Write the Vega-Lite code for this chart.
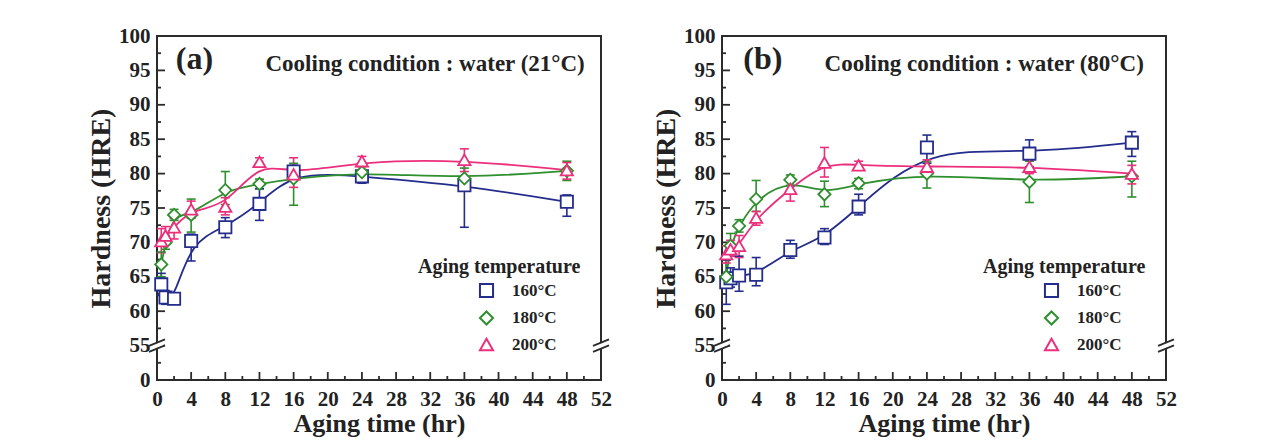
{
  "$schema": "https://vega.github.io/schema/vega-lite/v6.json",
  "background": "white",
  "padding": {"left": 86, "top": 24, "right": 5, "bottom": 5},
  "config": {
    "font": "Liberation Serif",
    "view": {"stroke": "#2b2b2b", "strokeWidth": 2},
    "concat": {"spacing": 38},
    "axis": {
      "domain": false,
      "grid": false,
      "ticks": false,
      "labelFlush": false,
      "labelFont": "Liberation Serif",
      "labelFontWeight": "bold",
      "labelFontSize": 21,
      "labelColor": "#222222",
      "labelOverlap": false,
      "titleFont": "Liberation Serif",
      "titleFontWeight": "bold",
      "titleColor": "#222222"
    },
    "legend": {
      "titleFont": "Liberation Serif",
      "titleFontWeight": "bold",
      "titleFontSize": 20,
      "titleColor": "#222222",
      "labelFont": "Liberation Serif",
      "labelFontWeight": "bold",
      "labelFontSize": 17,
      "labelColor": "#222222"
    }
  },
  "datasets": {
    "quench21C": [
      {"temp": "160°C", "time": 0.5, "hrs": 63.9, "lo": 62.3, "hi": 65.5},
      {"temp": "160°C", "time": 1, "hrs": 62.0, "lo": 61.0, "hi": 63.0},
      {"temp": "160°C", "time": 2, "hrs": 61.8, "lo": 61.0, "hi": 62.6},
      {"temp": "160°C", "time": 4, "hrs": 70.2, "lo": 67.3, "hi": 71.2},
      {"temp": "160°C", "time": 8, "hrs": 72.2, "lo": 70.7, "hi": 73.6},
      {"temp": "160°C", "time": 12, "hrs": 75.6, "lo": 73.2, "hi": 77.8},
      {"temp": "160°C", "time": 16, "hrs": 80.3, "lo": 79.0, "hi": 81.2},
      {"temp": "160°C", "time": 24, "hrs": 79.6, "lo": 78.6, "hi": 80.5},
      {"temp": "160°C", "time": 36, "hrs": 78.3, "lo": 72.2, "hi": 81.8},
      {"temp": "160°C", "time": 48, "hrs": 75.9, "lo": 73.8, "hi": 76.9},
      {"temp": "180°C", "time": 0.5, "hrs": 66.8, "lo": 65.0, "hi": 68.6},
      {"temp": "180°C", "time": 1, "hrs": 70.0, "lo": 69.0, "hi": 71.0},
      {"temp": "180°C", "time": 2, "hrs": 74.0, "lo": 73.2, "hi": 74.8},
      {"temp": "180°C", "time": 4, "hrs": 74.0, "lo": 71.5, "hi": 76.3},
      {"temp": "180°C", "time": 8, "hrs": 77.6, "lo": 75.5, "hi": 80.3},
      {"temp": "180°C", "time": 12, "hrs": 78.5, "lo": 77.8, "hi": 79.2},
      {"temp": "180°C", "time": 16, "hrs": 79.3, "lo": 75.4, "hi": 81.5},
      {"temp": "180°C", "time": 24, "hrs": 80.2, "lo": 78.8, "hi": 81.5},
      {"temp": "180°C", "time": 36, "hrs": 79.3, "lo": 77.8, "hi": 80.8},
      {"temp": "180°C", "time": 48, "hrs": 80.4, "lo": 79.0, "hi": 81.8},
      {"temp": "200°C", "time": 0.5, "hrs": 70.2, "lo": 68.5, "hi": 72.0},
      {"temp": "200°C", "time": 1, "hrs": 71.0, "lo": 70.0, "hi": 72.3},
      {"temp": "200°C", "time": 2, "hrs": 72.2, "lo": 70.5, "hi": 73.5},
      {"temp": "200°C", "time": 4, "hrs": 74.8, "lo": 73.5, "hi": 76.0},
      {"temp": "200°C", "time": 8, "hrs": 75.2, "lo": 74.0, "hi": 76.5},
      {"temp": "200°C", "time": 12, "hrs": 81.7, "lo": 81.0, "hi": 82.3},
      {"temp": "200°C", "time": 16, "hrs": 79.9, "lo": 78.0, "hi": 82.3},
      {"temp": "200°C", "time": 24, "hrs": 81.8, "lo": 81.0, "hi": 82.5},
      {"temp": "200°C", "time": 36, "hrs": 82.0, "lo": 80.3, "hi": 83.6},
      {"temp": "200°C", "time": 48, "hrs": 80.5, "lo": 79.2, "hi": 81.6}
    ],
    "quench80C": [
      {"temp": "160°C", "time": 0.5, "hrs": 64.2, "lo": 61.0, "hi": 67.4},
      {"temp": "160°C", "time": 1, "hrs": 64.8, "lo": 63.5, "hi": 66.3},
      {"temp": "160°C", "time": 2, "hrs": 65.2, "lo": 62.9, "hi": 68.0},
      {"temp": "160°C", "time": 4, "hrs": 65.3, "lo": 63.7, "hi": 67.8},
      {"temp": "160°C", "time": 8, "hrs": 68.9, "lo": 67.7, "hi": 70.3},
      {"temp": "160°C", "time": 12, "hrs": 70.7, "lo": 69.7, "hi": 72.0},
      {"temp": "160°C", "time": 16, "hrs": 75.2, "lo": 74.0, "hi": 77.0},
      {"temp": "160°C", "time": 24, "hrs": 83.8, "lo": 81.5, "hi": 85.6},
      {"temp": "160°C", "time": 36, "hrs": 82.9, "lo": 81.0, "hi": 84.9},
      {"temp": "160°C", "time": 48, "hrs": 84.5, "lo": 82.5, "hi": 86.1},
      {"temp": "180°C", "time": 0.5, "hrs": 65.0, "lo": 64.0, "hi": 67.5},
      {"temp": "180°C", "time": 1, "hrs": 69.5, "lo": 68.0, "hi": 71.3},
      {"temp": "180°C", "time": 2, "hrs": 72.4, "lo": 71.5, "hi": 73.3},
      {"temp": "180°C", "time": 4, "hrs": 76.3, "lo": 74.5, "hi": 79.0},
      {"temp": "180°C", "time": 8, "hrs": 79.1, "lo": 78.3, "hi": 79.8},
      {"temp": "180°C", "time": 12, "hrs": 77.0, "lo": 75.2, "hi": 78.9},
      {"temp": "180°C", "time": 16, "hrs": 78.6, "lo": 77.8, "hi": 79.3},
      {"temp": "180°C", "time": 24, "hrs": 80.0, "lo": 77.9, "hi": 81.7},
      {"temp": "180°C", "time": 36, "hrs": 78.8, "lo": 75.8, "hi": 81.8},
      {"temp": "180°C", "time": 48, "hrs": 79.6, "lo": 76.6, "hi": 81.8},
      {"temp": "200°C", "time": 0.5, "hrs": 68.3, "lo": 67.0, "hi": 69.5},
      {"temp": "200°C", "time": 1, "hrs": 69.0, "lo": 68.0, "hi": 70.3},
      {"temp": "200°C", "time": 2, "hrs": 69.5, "lo": 67.8, "hi": 71.0},
      {"temp": "200°C", "time": 4, "hrs": 73.6, "lo": 72.5, "hi": 74.5},
      {"temp": "200°C", "time": 8, "hrs": 77.8, "lo": 76.0, "hi": 79.2},
      {"temp": "200°C", "time": 12, "hrs": 81.6, "lo": 79.5, "hi": 83.8},
      {"temp": "200°C", "time": 16, "hrs": 81.2, "lo": 80.5, "hi": 81.8},
      {"temp": "200°C", "time": 24, "hrs": 81.0, "lo": 80.2, "hi": 82.0},
      {"temp": "200°C", "time": 36, "hrs": 81.0, "lo": 80.0, "hi": 82.0},
      {"temp": "200°C", "time": 48, "hrs": 80.0, "lo": 78.5, "hi": 81.2}
    ],
    "axisBreaks": [{"edge": 0}, {"edge": 52}],
    "xMajorTicks": [{"at": 0}, {"at": 4}, {"at": 8}, {"at": 12}, {"at": 16}, {"at": 20}, {"at": 24}, {"at": 28}, {"at": 32}, {"at": 36}, {"at": 40}, {"at": 44}, {"at": 48}, {"at": 52}],
    "xMinorTicks": [{"at": 2}, {"at": 6}, {"at": 10}, {"at": 14}, {"at": 18}, {"at": 22}, {"at": 26}, {"at": 30}, {"at": 34}, {"at": 38}, {"at": 42}, {"at": 46}, {"at": 50}],
    "yMajorTicks": [{"at": 55}, {"at": 60}, {"at": 65}, {"at": 70}, {"at": 75}, {"at": 80}, {"at": 85}, {"at": 90}, {"at": 95}, {"at": 100}],
    "yMinorTicks": [{"at": 52.5}, {"at": 57.5}, {"at": 62.5}, {"at": 67.5}, {"at": 72.5}, {"at": 77.5}, {"at": 82.5}, {"at": 87.5}, {"at": 92.5}, {"at": 97.5}]
  },
  "resolve": {
    "scale": {"color": "independent", "shape": "independent"},
    "legend": {"color": "independent", "shape": "independent"}
  },
  "hconcat": [
    {
      "width": 444,
      "height": 344,
      "resolve": {"axis": {"x": "independent", "y": "independent"}},
      "layer": [
        {
          "data": {"name": "quench21C"},
          "mark": {"type": "line", "interpolate": "basis", "strokeWidth": 1.8},
          "encoding": {
            "x": {"field": "time", "type": "quantitative",
              "scale": {"domain": [0, 52], "nice": false, "zero": false},
              "axis": {"title": "Aging time (hr)", "titleFontSize": 26, "labelOverlap": false, "labelFlush": false, "orient": "bottom",
                "values": [0,4,8,12,16,20,24,28,32,36,40,44,48,52],
                "ticks": false, "labelPadding": 8, "titlePadding": 1}},
            "y": {"field": "hrs", "type": "quantitative",
              "scale": {"domain": [50, 100], "nice": false, "zero": false},
              "axis": {"title": "Hardness (HRE)", "titleFontSize": 28, "labelOverlap": false, "labelFlush": false, "orient": "left",
                "values": [50,55,60,65,70,75,80,85,90,95,100],
                "labelExpr": "datum.value === 50 ? '0' : datum.label",
                "ticks": false, "labelPadding": 7, "titlePadding": 3}},
            "stroke": {"field": "temp", "type": "nominal", "legend": null,
              "scale": {"domain": ["160°C", "180°C", "200°C"], "range": ["#242c8c", "#2f8f2f", "#ec2f7c"]}}
          }
        },
        {
          "data": {"name": "xMajorTicks"},
          "mark": {"type": "rule", "color": "#2b2b2b", "strokeWidth": 1.8, "y2Offset": -8},
          "encoding": {
            "x": {"field": "at", "type": "quantitative", "axis": null},
            "x2": {"field": "at"},
            "y": {"datum": 50, "axis": null},
            "y2": {"datum": 50}
          }
        },
        {
          "data": {"name": "xMinorTicks"},
          "mark": {"type": "rule", "color": "#2b2b2b", "strokeWidth": 1.8, "y2Offset": -4},
          "encoding": {
            "x": {"field": "at", "type": "quantitative", "axis": null},
            "x2": {"field": "at"},
            "y": {"datum": 50, "axis": null},
            "y2": {"datum": 50}
          }
        },
        {
          "data": {"name": "yMajorTicks"},
          "mark": {"type": "rule", "color": "#2b2b2b", "strokeWidth": 1.8, "x2Offset": 8},
          "encoding": {
            "y": {"field": "at", "type": "quantitative", "axis": null},
            "y2": {"field": "at"},
            "x": {"datum": 0, "axis": null},
            "x2": {"datum": 0}
          }
        },
        {
          "data": {"name": "yMinorTicks"},
          "mark": {"type": "rule", "color": "#2b2b2b", "strokeWidth": 1.8, "x2Offset": 4},
          "encoding": {
            "y": {"field": "at", "type": "quantitative", "axis": null},
            "y2": {"field": "at"},
            "x": {"datum": 0, "axis": null},
            "x2": {"datum": 0}
          }
        },
        {
          "data": {"name": "quench21C"},
          "mark": {"type": "rule", "strokeWidth": 1.6},
          "encoding": {
            "x": {"field": "time", "type": "quantitative", "axis": null},
            "y": {"field": "lo", "type": "quantitative", "axis": null},
            "y2": {"field": "hi"},
            "stroke": {"field": "temp", "type": "nominal", "legend": null}
          }
        },
        {
          "data": {"name": "quench21C"},
          "mark": {"type": "rule", "strokeWidth": 1.6, "xOffset": -4.5, "x2Offset": 4.5},
          "encoding": {
            "x": {"field": "time", "type": "quantitative", "axis": null},
            "x2": {"field": "time"},
            "y": {"field": "lo", "type": "quantitative", "axis": null},
            "y2": {"field": "lo"},
            "stroke": {"field": "temp", "type": "nominal", "legend": null}
          }
        },
        {
          "data": {"name": "quench21C"},
          "mark": {"type": "rule", "strokeWidth": 1.6, "xOffset": -4.5, "x2Offset": 4.5},
          "encoding": {
            "x": {"field": "time", "type": "quantitative", "axis": null},
            "x2": {"field": "time"},
            "y": {"field": "hi", "type": "quantitative", "axis": null},
            "y2": {"field": "hi"},
            "stroke": {"field": "temp", "type": "nominal", "legend": null}
          }
        },
        {
          "data": {"name": "quench21C"},
          "mark": {"type": "point", "filled": false, "fill": "white", "fillOpacity": 1, "opacity": 1, "size": 150, "strokeWidth": 1.8},
          "encoding": {
            "x": {"field": "time", "type": "quantitative", "axis": null},
            "y": {"field": "hrs", "type": "quantitative", "axis": null},
            "color": {"field": "temp", "type": "nominal",
              "scale": {"domain": ["160°C", "180°C", "200°C"], "range": ["#242c8c", "#2f8f2f", "#ec2f7c"]},
              "legend": {
                "title": "Aging temperature",
                "orient": "none", "legendX": 261, "legendY": 221,
                "padding": 0, "titlePadding": 5, "rowPadding": 4.5,
                "symbolSize": 172, "symbolStrokeWidth": 2,
                "symbolOffset": 60, "labelOffset": 17
              }},
            "shape": {"field": "temp", "type": "nominal",
              "scale": {"domain": ["160°C", "180°C", "200°C"], "range": ["square", "diamond", "triangle-up"]}}
          }
        },
        {
          "data": {"name": "axisBreaks"},
          "mark": {"type": "rule", "color": "white", "strokeWidth": 5, "xOffset": -6, "x2Offset": 6, "yOffset": 2.4, "y2Offset": -2.4},
          "encoding": {
            "x": {"field": "edge", "type": "quantitative", "axis": null},
            "x2": {"field": "edge"},
            "y": {"datum": 55, "axis": null},
            "y2": {"datum": 55}
          }
        },
        {
          "data": {"name": "axisBreaks"},
          "mark": {"type": "rule", "color": "#2b2b2b", "strokeWidth": 1.8, "xOffset": -8, "x2Offset": 8, "yOffset": 0.2, "y2Offset": -6.2},
          "encoding": {
            "x": {"field": "edge", "type": "quantitative", "axis": null},
            "x2": {"field": "edge"},
            "y": {"datum": 55, "axis": null},
            "y2": {"datum": 55}
          }
        },
        {
          "data": {"name": "axisBreaks"},
          "mark": {"type": "rule", "color": "#2b2b2b", "strokeWidth": 1.8, "xOffset": -8, "x2Offset": 8, "yOffset": 6.2, "y2Offset": -0.2},
          "encoding": {
            "x": {"field": "edge", "type": "quantitative", "axis": null},
            "x2": {"field": "edge"},
            "y": {"datum": 55, "axis": null},
            "y2": {"datum": 55}
          }
        },
        {
          "data": {"values": [{"tag": "(a)"}]},
          "mark": {"type": "text", "align": "left", "baseline": "middle", "fontSize": 32, "fontWeight": "bold", "color": "#222222"},
          "encoding": {
            "x": {"datum": 2.2, "axis": null},
            "y": {"datum": 96.6, "axis": null},
            "text": {"field": "tag"}
          }
        },
        {
          "data": {"values": [{"note": "Cooling condition : water (21°C)"}]},
          "mark": {"type": "text", "align": "right", "baseline": "middle", "fontSize": 23, "fontWeight": "bold", "color": "#222222"},
          "encoding": {
            "x": {"datum": 50.1, "axis": null},
            "y": {"datum": 96.0, "axis": null},
            "text": {"field": "note"}
          }
        }
      ]
    },
    {
      "width": 444,
      "height": 344,
      "resolve": {"axis": {"x": "independent", "y": "independent"}},
      "layer": [
        {
          "data": {"name": "quench80C"},
          "mark": {"type": "line", "interpolate": "basis", "strokeWidth": 1.8},
          "encoding": {
            "x": {"field": "time", "type": "quantitative",
              "scale": {"domain": [0, 52], "nice": false, "zero": false},
              "axis": {"title": "Aging time (hr)", "titleFontSize": 26, "labelOverlap": false, "labelFlush": false, "orient": "bottom",
                "values": [0,4,8,12,16,20,24,28,32,36,40,44,48,52],
                "ticks": false, "labelPadding": 8, "titlePadding": 1}},
            "y": {"field": "hrs", "type": "quantitative",
              "scale": {"domain": [50, 100], "nice": false, "zero": false},
              "axis": {"title": "Hardness (HRE)", "titleFontSize": 28, "labelOverlap": false, "labelFlush": false, "orient": "left",
                "values": [50,55,60,65,70,75,80,85,90,95,100],
                "labelExpr": "datum.value === 50 ? '0' : datum.label",
                "ticks": false, "labelPadding": 7, "titlePadding": 3}},
            "stroke": {"field": "temp", "type": "nominal", "legend": null,
              "scale": {"domain": ["160°C", "180°C", "200°C"], "range": ["#242c8c", "#2f8f2f", "#ec2f7c"]}}
          }
        },
        {
          "data": {"name": "xMajorTicks"},
          "mark": {"type": "rule", "color": "#2b2b2b", "strokeWidth": 1.8, "y2Offset": -8},
          "encoding": {
            "x": {"field": "at", "type": "quantitative", "axis": null},
            "x2": {"field": "at"},
            "y": {"datum": 50, "axis": null},
            "y2": {"datum": 50}
          }
        },
        {
          "data": {"name": "xMinorTicks"},
          "mark": {"type": "rule", "color": "#2b2b2b", "strokeWidth": 1.8, "y2Offset": -4},
          "encoding": {
            "x": {"field": "at", "type": "quantitative", "axis": null},
            "x2": {"field": "at"},
            "y": {"datum": 50, "axis": null},
            "y2": {"datum": 50}
          }
        },
        {
          "data": {"name": "yMajorTicks"},
          "mark": {"type": "rule", "color": "#2b2b2b", "strokeWidth": 1.8, "x2Offset": 8},
          "encoding": {
            "y": {"field": "at", "type": "quantitative", "axis": null},
            "y2": {"field": "at"},
            "x": {"datum": 0, "axis": null},
            "x2": {"datum": 0}
          }
        },
        {
          "data": {"name": "yMinorTicks"},
          "mark": {"type": "rule", "color": "#2b2b2b", "strokeWidth": 1.8, "x2Offset": 4},
          "encoding": {
            "y": {"field": "at", "type": "quantitative", "axis": null},
            "y2": {"field": "at"},
            "x": {"datum": 0, "axis": null},
            "x2": {"datum": 0}
          }
        },
        {
          "data": {"name": "quench80C"},
          "mark": {"type": "rule", "strokeWidth": 1.6},
          "encoding": {
            "x": {"field": "time", "type": "quantitative", "axis": null},
            "y": {"field": "lo", "type": "quantitative", "axis": null},
            "y2": {"field": "hi"},
            "stroke": {"field": "temp", "type": "nominal", "legend": null}
          }
        },
        {
          "data": {"name": "quench80C"},
          "mark": {"type": "rule", "strokeWidth": 1.6, "xOffset": -4.5, "x2Offset": 4.5},
          "encoding": {
            "x": {"field": "time", "type": "quantitative", "axis": null},
            "x2": {"field": "time"},
            "y": {"field": "lo", "type": "quantitative", "axis": null},
            "y2": {"field": "lo"},
            "stroke": {"field": "temp", "type": "nominal", "legend": null}
          }
        },
        {
          "data": {"name": "quench80C"},
          "mark": {"type": "rule", "strokeWidth": 1.6, "xOffset": -4.5, "x2Offset": 4.5},
          "encoding": {
            "x": {"field": "time", "type": "quantitative", "axis": null},
            "x2": {"field": "time"},
            "y": {"field": "hi", "type": "quantitative", "axis": null},
            "y2": {"field": "hi"},
            "stroke": {"field": "temp", "type": "nominal", "legend": null}
          }
        },
        {
          "data": {"name": "quench80C"},
          "mark": {"type": "point", "filled": false, "fill": "white", "fillOpacity": 1, "opacity": 1, "size": 150, "strokeWidth": 1.8},
          "encoding": {
            "x": {"field": "time", "type": "quantitative", "axis": null},
            "y": {"field": "hrs", "type": "quantitative", "axis": null},
            "color": {"field": "temp", "type": "nominal",
              "scale": {"domain": ["160°C", "180°C", "200°C"], "range": ["#242c8c", "#2f8f2f", "#ec2f7c"]},
              "legend": {
                "title": "Aging temperature",
                "orient": "none", "legendX": 261, "legendY": 221,
                "padding": 0, "titlePadding": 5, "rowPadding": 4.5,
                "symbolSize": 172, "symbolStrokeWidth": 2,
                "symbolOffset": 60, "labelOffset": 17
              }},
            "shape": {"field": "temp", "type": "nominal",
              "scale": {"domain": ["160°C", "180°C", "200°C"], "range": ["square", "diamond", "triangle-up"]}}
          }
        },
        {
          "data": {"name": "axisBreaks"},
          "mark": {"type": "rule", "color": "white", "strokeWidth": 5, "xOffset": -6, "x2Offset": 6, "yOffset": 2.4, "y2Offset": -2.4},
          "encoding": {
            "x": {"field": "edge", "type": "quantitative", "axis": null},
            "x2": {"field": "edge"},
            "y": {"datum": 55, "axis": null},
            "y2": {"datum": 55}
          }
        },
        {
          "data": {"name": "axisBreaks"},
          "mark": {"type": "rule", "color": "#2b2b2b", "strokeWidth": 1.8, "xOffset": -8, "x2Offset": 8, "yOffset": 0.2, "y2Offset": -6.2},
          "encoding": {
            "x": {"field": "edge", "type": "quantitative", "axis": null},
            "x2": {"field": "edge"},
            "y": {"datum": 55, "axis": null},
            "y2": {"datum": 55}
          }
        },
        {
          "data": {"name": "axisBreaks"},
          "mark": {"type": "rule", "color": "#2b2b2b", "strokeWidth": 1.8, "xOffset": -8, "x2Offset": 8, "yOffset": 6.2, "y2Offset": -0.2},
          "encoding": {
            "x": {"field": "edge", "type": "quantitative", "axis": null},
            "x2": {"field": "edge"},
            "y": {"datum": 55, "axis": null},
            "y2": {"datum": 55}
          }
        },
        {
          "data": {"values": [{"tag": "(b)"}]},
          "mark": {"type": "text", "align": "left", "baseline": "middle", "fontSize": 32, "fontWeight": "bold", "color": "#222222"},
          "encoding": {
            "x": {"datum": 2.5, "axis": null},
            "y": {"datum": 96.6, "axis": null},
            "text": {"field": "tag"}
          }
        },
        {
          "data": {"values": [{"note": "Cooling condition : water (80°C)"}]},
          "mark": {"type": "text", "align": "right", "baseline": "middle", "fontSize": 23, "fontWeight": "bold", "color": "#222222"},
          "encoding": {
            "x": {"datum": 49.4, "axis": null},
            "y": {"datum": 96.0, "axis": null},
            "text": {"field": "note"}
          }
        }
      ]
    }
  ]
}
